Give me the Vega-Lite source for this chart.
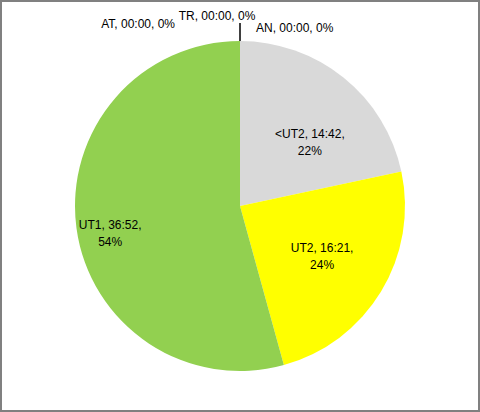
{
  "$schema": "https://vega.github.io/schema/vega-lite/v6.json",
  "width": 478,
  "height": 410,
  "padding": 1,
  "autosize": {"type": "none"},
  "background": "white",
  "view": {"stroke": "#808080", "strokeWidth": 2},
  "data": {
    "values": [
      {"idx": 1, "cat": "<UT2", "minutes": 882, "label": "<UT2, 14:42,\n22%"},
      {"idx": 2, "cat": "UT2", "minutes": 981, "label": "UT2, 16:21,\n24%"},
      {"idx": 3, "cat": "UT1", "minutes": 2212, "label": "UT1, 36:52,\n54%"},
      {"idx": 4, "cat": "AT", "minutes": 0, "label": "AT, 00:00, 0%"},
      {"idx": 5, "cat": "TR", "minutes": 0, "label": "TR, 00:00, 0%"},
      {"idx": 6, "cat": "AN", "minutes": 0, "label": "AN, 00:00, 0%"}
    ]
  },
  "encoding": {
    "theta": {"field": "minutes", "type": "quantitative", "stack": true},
    "order": {"field": "idx", "type": "quantitative"}
  },
  "layer": [
    {
      "mark": {"type": "arc", "outerRadius": 165},
      "encoding": {
        "color": {
          "field": "cat",
          "type": "nominal",
          "scale": {
            "domain": ["<UT2", "UT2", "UT1", "AT", "TR", "AN"],
            "range": ["#D9D9D9", "#FFFF00", "#92D050", "#4472C4", "#ED7D31", "#A5A5A5"]
          },
          "legend": null
        }
      }
    },
    {
      "mark": {"type": "arc", "innerRadius": 165, "outerRadius": 183, "fill": null, "stroke": "black", "strokeWidth": 1},
      "encoding": {
        "strokeOpacity": {"condition": {"test": "datum.cat === 'TR'", "value": 1}, "value": 0}
      }
    },
    {
      "mark": {"type": "text", "radius": 100, "dx": 7, "dy": 6, "font": "Liberation Sans", "fontSize": 12, "lineBreak": "\n", "lineHeight": 17, "color": "black"},
      "encoding": {"text": {"condition": {"test": "datum.cat === '<UT2'", "field": "label"}, "value": ""}}
    },
    {
      "mark": {"type": "text", "radius": 96, "dy": -8, "font": "Liberation Sans", "fontSize": 12, "lineBreak": "\n", "lineHeight": 17, "color": "black"},
      "encoding": {"text": {"condition": {"test": "datum.cat === 'UT2'", "field": "label"}, "value": ""}}
    },
    {
      "mark": {"type": "text", "radius": 131, "dy": 1, "font": "Liberation Sans", "fontSize": 12, "lineBreak": "\n", "lineHeight": 17, "color": "black"},
      "encoding": {"text": {"condition": {"test": "datum.cat === 'UT1'", "field": "label"}, "value": ""}}
    },
    {
      "mark": {"type": "text", "radius": 182, "dx": -65, "align": "right", "font": "Liberation Sans", "fontSize": 12, "color": "black"},
      "encoding": {"text": {"condition": {"test": "datum.cat === 'AT'", "field": "label"}, "value": ""}}
    },
    {
      "mark": {"type": "text", "radius": 190, "dx": -23, "font": "Liberation Sans", "fontSize": 12, "color": "black"},
      "encoding": {"text": {"condition": {"test": "datum.cat === 'TR'", "field": "label"}, "value": ""}}
    },
    {
      "mark": {"type": "text", "radius": 178, "dx": 16, "align": "left", "font": "Liberation Sans", "fontSize": 12, "color": "black"},
      "encoding": {"text": {"condition": {"test": "datum.cat === 'AN'", "field": "label"}, "value": ""}}
    }
  ]
}
